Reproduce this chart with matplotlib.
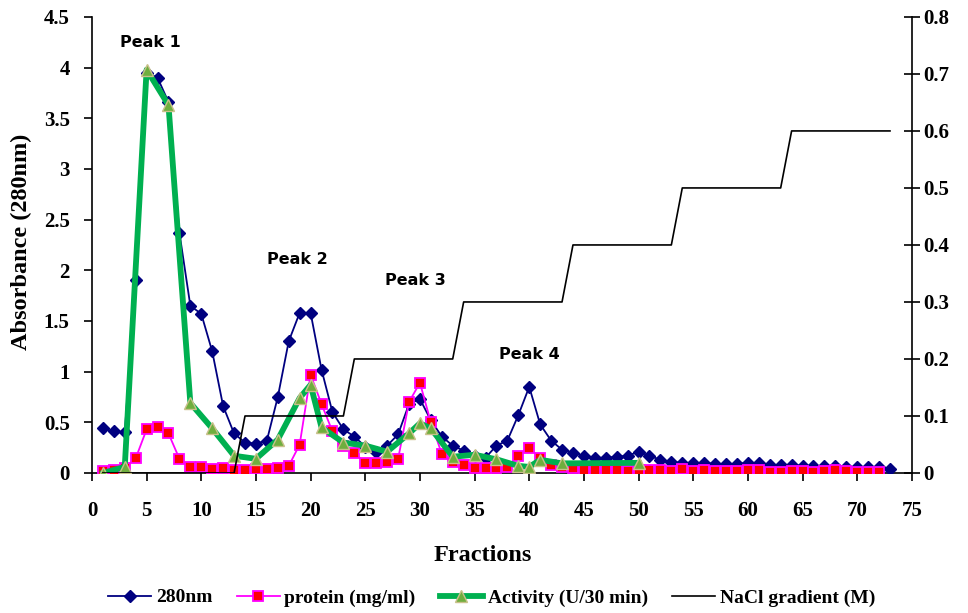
import matplotlib
matplotlib.use("Agg")
import matplotlib.pyplot as plt
from matplotlib.ticker import MultipleLocator

# ---------------- data ----------------
fractions_280 = list(range(1, 74))
abs_280 = [0.44, 0.41, 0.40, 1.90, 3.95, 3.90, 3.66, 2.37, 1.65, 1.57,
           1.20, 0.66, 0.39, 0.30, 0.29, 0.32, 0.75, 1.30, 1.58, 1.58,
           1.02, 0.60, 0.43, 0.36, 0.26, 0.21, 0.27, 0.38, 0.68, 0.73,
           0.52, 0.36, 0.27, 0.22, 0.17, 0.15, 0.27, 0.32, 0.57, 0.85,
           0.48, 0.32, 0.23, 0.20, 0.17, 0.15, 0.15, 0.16, 0.17, 0.21,
           0.17, 0.13, 0.11, 0.10, 0.10, 0.10, 0.09, 0.09, 0.09, 0.10,
           0.10, 0.08, 0.08, 0.08, 0.07, 0.07, 0.07, 0.07, 0.06, 0.06,
           0.06, 0.06, 0.04]

fractions_protein = list(range(1, 73))
protein = [0.02, 0.03, 0.05, 0.145, 0.43, 0.45, 0.39, 0.14, 0.06, 0.06,
           0.035, 0.045, 0.03, 0.03, 0.035, 0.035, 0.045, 0.07, 0.28, 0.97,
           0.68, 0.41, 0.27, 0.20, 0.10, 0.10, 0.11, 0.135, 0.70, 0.89,
           0.50, 0.19, 0.11, 0.08, 0.045, 0.045, 0.05, 0.06, 0.17, 0.25,
           0.145, 0.08, 0.055, 0.045, 0.025, 0.03, 0.03, 0.025, 0.02, 0.03,
           0.03, 0.03, 0.015, 0.04, 0.02, 0.03, 0.02, 0.02, 0.02, 0.03,
           0.03, 0.01, 0.01, 0.02, 0.02, 0.01, 0.02, 0.03, 0.02, 0.01,
           0.01, 0.01]

fractions_activity = [1, 3, 5, 7, 9, 11, 13, 15, 17, 19, 20, 21, 23, 25, 27,
                      29, 30, 31, 33, 35, 37, 39, 40, 41, 43, 50]
activity = [0.0, 0.06, 3.98, 3.63, 0.69, 0.44, 0.17, 0.14, 0.33, 0.74, 0.87,
            0.45, 0.30, 0.27, 0.21, 0.39, 0.49, 0.44, 0.16, 0.18, 0.135, 0.07,
            0.06, 0.13, 0.095, 0.10]

fractions_nacl = list(range(1, 74))
nacl = [0.0] * 13 + [0.1] * 10 + [0.2] * 10 + [0.3] * 10 + [0.4] * 10 + [0.5] * 10 + [0.6] * 10

peak_labels = ["Peak 1", "Peak 2", "Peak 3", "Peak 4"]
peak_x = [5.3, 18.75, 29.6, 40.0]
peak_y = [4.25, 2.11, 1.90, 1.17]

series_names = ["280nm", "protein (mg/ml)", "Activity (U/30 min)", "NaCl gradient (M)"]

# ---------------- figure ----------------
serif = ["Liberation Serif", "DejaVu Serif"]
fig = plt.figure(figsize=(9.68, 6.13), dpi=100)
ax = fig.add_axes([0.095, 0.2284, 0.847, 0.744])
ax2 = ax.twinx()

l1, = ax.plot(fractions_280, abs_280, color="#000080", lw=1.3, marker="D",
              ms=6.5, mfc="#000080", mec="#000080", zorder=3)
l2, = ax.plot(fractions_protein, protein, color="#FF00FF", lw=1.3, marker="s",
              ms=6.5, mfc="#FF0000", mec="#FF00FF", mew=1.3, zorder=4)
l3, = ax.plot(fractions_activity, activity, color="#00B050", lw=4.2, marker="^",
              ms=8.5, mfc="#6FAE3E", mec="#C9C08A", mew=1.0, zorder=5)
l4, = ax2.plot(fractions_nacl, nacl, color="black", lw=1.2, zorder=6)

ax.set_xlim(0, 75)
ax.set_ylim(0, 4.5)
ax2.set_ylim(0, 0.8)
ax.xaxis.set_major_locator(MultipleLocator(5))
ax.yaxis.set_major_locator(MultipleLocator(0.5))
ax2.yaxis.set_major_locator(MultipleLocator(0.1))
ax.yaxis.set_major_formatter(plt.FuncFormatter(lambda v, p: ("%g" % v)))
ax2.yaxis.set_major_formatter(plt.FuncFormatter(lambda v, p: ("%g" % round(v, 2))))

for a in (ax, ax2):
    a.spines["top"].set_visible(False)
    a.set_facecolor("none")
ax.spines["right"].set_visible(False)
ax2.spines["left"].set_visible(False)
ax2.spines["bottom"].set_visible(False)
for s in ("left", "bottom"):
    ax.spines[s].set_color("black")
    ax.spines[s].set_linewidth(1.2)
ax2.spines["right"].set_linewidth(1.2)

ax.tick_params(axis="both", direction="out", length=6, width=1.2,
               labelsize=15)
ax.tick_params(axis="y", pad=10)
ax.tick_params(axis="x", pad=14)
ax2.tick_params(axis="y", direction="inout", length=12, width=1.2,
                labelsize=15, pad=2)
for lab in ax.get_xticklabels() + ax.get_yticklabels() + ax2.get_yticklabels():
    lab.set_fontfamily(serif)
    lab.set_fontweight("bold")

ax.set_ylabel("Absorbance (280nm)", fontfamily=serif, fontweight="bold",
              fontsize=17.5)
ax.yaxis.set_label_coords(-0.073, 0.507)
ax.set_xlabel("Fractions", fontfamily=serif, fontweight="bold", fontsize=17.5)
ax.xaxis.set_label_coords(0.477, -0.157)

for t, x, y in zip(peak_labels, peak_x, peak_y):
    ax.text(x, y, t, ha="center", va="center", fontsize=11.5, fontweight="bold",
            family=["Liberation Sans Narrow", "DejaVu Sans"])

fig.legend([l1, l2, l3, l4], series_names, loc="center", ncol=4,
           bbox_to_anchor=(0.508, 0.025), frameon=False, handlelength=2.2,
           columnspacing=1.25, handletextpad=0.25,
           prop={"family": serif, "size": 14, "weight": "bold"})

fig.savefig("out.png", dpi=100)
